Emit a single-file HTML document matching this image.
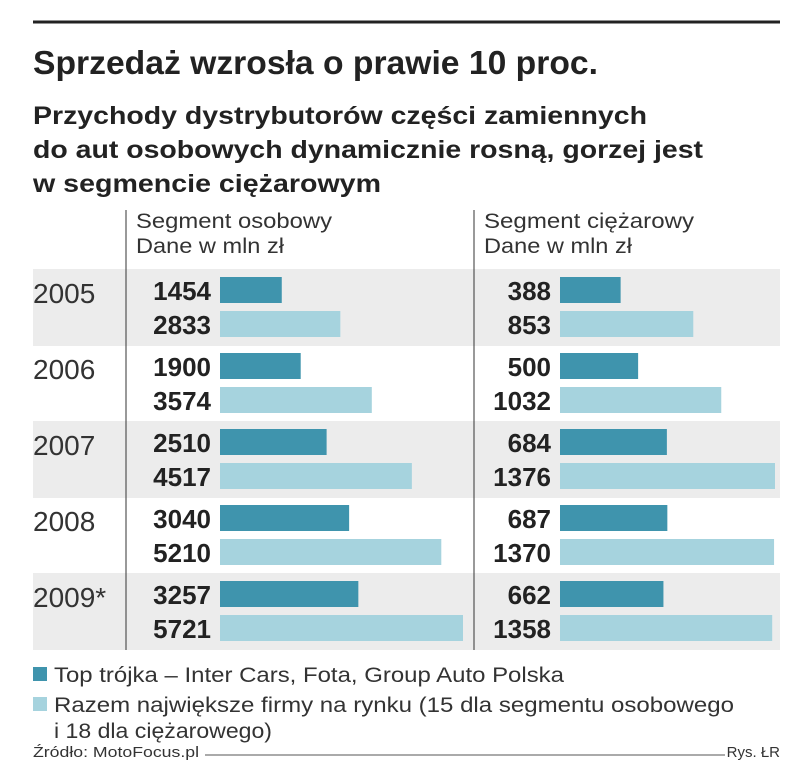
<!DOCTYPE html>
<html><head><meta charset="utf-8"><style>
body{margin:0;background:#fff;}
svg{display:block;font-family:"Liberation Sans Narrow","Liberation Sans",sans-serif;}
</style></head><body>
<svg id="chart" width="805" height="780">
<line x1="33" y1="22" x2="780" y2="22" stroke="#222" stroke-width="3"/>
<text x="33" y="74" font-size="33" font-weight="bold" fill="#222" textLength="565" lengthAdjust="spacingAndGlyphs">Sprzedaż wzrosła o prawie 10 proc.</text>
<g font-size="25" font-weight="bold" fill="#222">
<text x="33" y="124" textLength="614" lengthAdjust="spacingAndGlyphs">Przychody dystrybutorów części zamiennych</text>
<text x="33" y="158" textLength="670" lengthAdjust="spacingAndGlyphs">do aut osobowych dynamicznie rosną, gorzej jest</text>
<text x="33" y="192" textLength="348" lengthAdjust="spacingAndGlyphs">w segmencie ciężarowym</text>
</g>
<g id="bands"></g>
<line x1="126" y1="210" x2="126" y2="650" stroke="#333" stroke-width="1"/>
<line x1="474" y1="210" x2="474" y2="650" stroke="#333" stroke-width="1"/>
<g font-size="21" fill="#333">
<text x="136" y="228" textLength="196" lengthAdjust="spacingAndGlyphs">Segment osobowy</text>
<text x="136" y="253" textLength="148" lengthAdjust="spacingAndGlyphs">Dane w mln zł</text>
<text x="484" y="228" textLength="210" lengthAdjust="spacingAndGlyphs">Segment ciężarowy</text>
<text x="484" y="253" textLength="148" lengthAdjust="spacingAndGlyphs">Dane w mln zł</text>
</g>
<g id="marks"></g>
<rect x="33" y="667" width="14" height="14" fill="#3f94ad"/>
<text x="54" y="682" font-size="21" fill="#333" textLength="510" lengthAdjust="spacingAndGlyphs">Top trójka – Inter Cars, Fota, Group Auto Polska</text>
<rect x="33" y="697" width="14" height="14" fill="#a6d3de"/>
<text x="54" y="712" font-size="21" fill="#333" textLength="680" lengthAdjust="spacingAndGlyphs">Razem największe firmy na rynku (15 dla segmentu osobowego</text>
<text x="54" y="738" font-size="21" fill="#333" textLength="218" lengthAdjust="spacingAndGlyphs">i 18 dla ciężarowego)</text>
<text x="33" y="757" font-size="15" fill="#333" textLength="166" lengthAdjust="spacingAndGlyphs">Źródło: MotoFocus.pl</text>
<line x1="205" y1="755" x2="725" y2="755" stroke="#555" stroke-width="1"/>
<text x="780" y="757" font-size="15" fill="#333" text-anchor="end">Rys. ŁR</text>
</svg>
<script>
const years=["2005","2006","2007","2008","2009*"];
const carTop=[1454,1900,2510,3040,3257];
const carTotal=[2833,3574,4517,5210,5721];
const truckTop=[388,500,684,687,662];
const truckTotal=[853,1032,1376,1370,1358];
const NS="http://www.w3.org/2000/svg";
const marks=document.getElementById('marks'),bands=document.getElementById('bands');
const rowY=i=>269+i*76;
const xCar=v=>v*243/5721;
const xTruck=v=>v*215/1376;
function mk(tag,attrs,parent){const e=document.createElementNS(NS,tag);for(const k in attrs)e.setAttribute(k,attrs[k]);parent.appendChild(e);return e;}
years.forEach((y,i)=>{
  const top=rowY(i);
  if(i%2===0){const b=mk('rect',{x:33,y:top,width:747,height:77,fill:'#ececec'},bands);
    
    }
  const yl=mk('text',{x:33,y:top+34,'font-size':28,fill:'#333'},marks);yl.textContent=y;
  
  
  const series=[[carTop,xCar,220,211,'#3f94ad',8],[carTotal,xCar,220,211,'#a6d3de',42],[truckTop,xTruck,560,551,'#3f94ad',8],[truckTotal,xTruck,560,551,'#a6d3de',42]];
  series.forEach(([arr,sc,x0,tx,col,dy],k)=>{
    const r=mk('rect',{x:x0,y:top+dy,width:sc(arr[i]),height:26,fill:col},marks);
    
    
    const t=mk('text',{x:tx,y:top+dy+23,'font-size':26,'font-weight':'bold',fill:'#222','text-anchor':'end'},marks);
    t.textContent=arr[i];
    
    
  });
});
</script>
</body></html>
